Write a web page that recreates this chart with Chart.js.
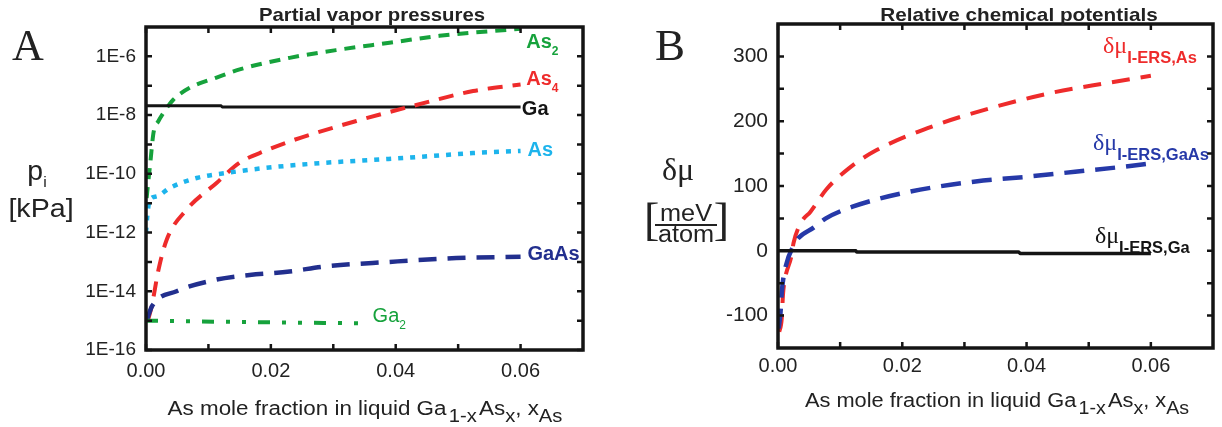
<!DOCTYPE html>
<html>
<head>
<meta charset="utf-8">
<script src="https://cdn.jsdelivr.net/npm/chart.js@4.4.0/dist/chart.umd.min.js"></script>
<style>
  body { margin: 0; background: #fff; }
  #wrap { position: relative; width: 1222px; height: 427px; }
  canvas { position: absolute; top: 0; }
  #chart-a { left: 0; }
  #chart-b { left: 611px; }
</style>
</head>
<body>
<div id="wrap">
  <canvas id="chart-a" width="611" height="427"></canvas>
  <canvas id="chart-b" width="611" height="427"></canvas>
</div>
<script>
// ---- panel A: partial vapor pressures [kPa] vs As mole fraction ----
const as2X = [0.0001, 0.0004, 0.0007, 0.0012, 0.002, 0.0028, 0.0044, 0.007, 0.0113, 0.015, 0.023, 0.031, 0.039, 0.047, 0.06];
const as2P = [1.5e-11, 6.3e-11, 2.5e-10, 2.5e-9, 6.3e-9, 1.2e-8, 3.4e-8, 8.5e-8, 1.9e-7, 3.6e-7, 8.9e-7, 1.7e-6, 2.9e-6, 5.0e-6, 8.7e-6];

const as4X = [0.0003, 0.0009, 0.002, 0.0033, 0.0065, 0.0113, 0.015, 0.0193, 0.0236, 0.0337, 0.0433, 0.0524, 0.06];
const as4P = [1.0e-15, 3.0e-15, 5.4e-14, 5.6e-13, 6.0e-12, 4.9e-11, 2.4e-10, 6.3e-10, 1.4e-9, 6.3e-9, 2.2e-8, 6.6e-8, 1.1e-7];

const asX = [0.0, 0.0002, 0.0006, 0.0017, 0.0038, 0.0081, 0.0129, 0.0193, 0.0278, 0.0364, 0.0417, 0.0524, 0.06];
const asP = [1.0e-12, 3.5e-12, 1.3e-11, 1.7e-11, 3.3e-11, 7.2e-11, 1.07e-10, 1.6e-10, 2.3e-10, 3.0e-10, 3.5e-10, 5.1e-10, 6.0e-10];

const gaX = [0.0, 0.012, 0.0122, 0.06];
const gaP = [2.1e-8, 2.1e-8, 1.9e-8, 1.9e-8];

const gaasX = [0.0001, 0.001, 0.0049, 0.0113, 0.0166, 0.023, 0.0284, 0.039, 0.0497, 0.06];
const gaasP = [1.0e-15, 3.2e-15, 1.0e-14, 2.5e-14, 3.6e-14, 4.7e-14, 6.9e-14, 1.0e-13, 1.35e-13, 1.5e-13];

const ga2X = [0.0, 0.015, 0.035];
const ga2P = [1.0e-15, 9.0e-16, 8.1e-16];

// ---- panel B: relative chemical potentials [meV/atom] ----
const muAsX = [0.0002, 0.0006, 0.0008, 0.001, 0.0022, 0.0025, 0.0038, 0.0052, 0.0078, 0.0115, 0.0158, 0.0254, 0.0345, 0.0441, 0.0505, 0.06];
const muAs  = [-125, -105, -68, -50, -6, 12, 45, 60, 95, 128, 155, 194, 221, 244, 255, 270];

const muGaAsX = [0.0001, 0.0004, 0.0006, 0.0009, 0.0025, 0.0059, 0.0077, 0.012, 0.0211, 0.0318, 0.0398, 0.0478, 0.0558, 0.06];
const muGaAs  = [-120, -96, -65, -40, 8, 37, 50, 68, 91, 107, 114, 122, 130, 135];

const muGaX = [0.0, 0.0125, 0.0127, 0.0387, 0.039, 0.06];
const muGa  = [0, 0, -2, -2, -4, -4];

// ---- axis ticks ----
const xTicks = [0, 0.02, 0.04, 0.06];
const xMinorTicks = [0.01, 0.03, 0.05];
const pTicks = [1e-16, 1e-14, 1e-12, 1e-10, 1e-8, 1e-6];
const pMinorTicks = [1e-15, 1e-13, 1e-11, 1e-9, 1e-7];
const muTicks = [-100, 0, 100, 200, 300];
const muMinorTicks = [-50, 50, 150, 250];

const SANS = '"Liberation Sans", Arial, sans-serif';
const SERIF = '"Liberation Serif", "Times New Roman", serif';
const GREEN = '#16a23c';
const RED = '#ee2b2b';
const CYAN = '#1db4ec';
const NAVY = '#222f8e';
const BLUE = '#2639a8';
const BLACK = '#141414';
const TEXT = '#222';

function pts(xs, ys) {
  return xs.map((x, i) => ({ x: x, y: ys[i] }));
}

function series(label, xs, ys, color, width, dash) {
  return {
    label: label,
    data: pts(xs, ys),
    borderColor: color,
    borderWidth: width,
    borderDash: dash,
    pointRadius: 0,
    fill: false,
    cubicInterpolationMode: 'monotone'
  };
}

// text made of several runs (for sub- and superscripts)
function drawRich(ctx, item, x, y) {
  ctx.save();
  ctx.translate(x, y);
  ctx.scale(item.sx || 1, 1);
  ctx.textBaseline = 'alphabetic';
  ctx.textAlign = 'left';
  let w = 0;
  item.parts.forEach(p => {
    ctx.font = p.font;
    w += ctx.measureText(p.t).width + (p.gap || 0);
  });
  let cx = item.align === 'center' ? -w / 2 : item.align === 'right' ? -w : 0;
  item.parts.forEach(p => {
    ctx.font = p.font;
    ctx.fillStyle = p.color || item.color || TEXT;
    ctx.fillText(p.t, cx, p.dy || 0);
    cx += ctx.measureText(p.t).width + (p.gap || 0);
  });
  ctx.restore();
}

// boxed frame with inward ticks on all four sides, plus annotations
const framePlugin = {
  id: 'frame',
  afterDatasetsDraw(chart, args, opts) {
    const { ctx, chartArea: a, scales } = chart;
    ctx.save();
    ctx.strokeStyle = BLACK;
    ctx.lineWidth = 2.5;
    ctx.beginPath();
    opts.xTicks.forEach(v => {
      const px = scales.x.getPixelForValue(v);
      ctx.moveTo(px, a.bottom); ctx.lineTo(px, a.bottom - 6);
      ctx.moveTo(px, a.top); ctx.lineTo(px, a.top + 6);
    });
    opts.yTicks.forEach(v => {
      const py = scales.y.getPixelForValue(v);
      ctx.moveTo(a.left, py); ctx.lineTo(a.left + 6, py);
      ctx.moveTo(a.right, py); ctx.lineTo(a.right - 6, py);
    });
    ctx.stroke();
    ctx.lineWidth = 3.5;
    ctx.strokeRect(a.left, a.top, a.right - a.left, a.bottom - a.top);
    ctx.restore();

    (opts.texts || []).forEach(t => {
      const x = t.dataX !== undefined ? scales.x.getPixelForValue(t.dataX) : t.px;
      const y = t.dataY !== undefined ? scales.y.getPixelForValue(t.dataY) : t.py;
      drawRich(ctx, t, x, y);
    });
    (opts.rules || []).forEach(r => {
      ctx.save();
      ctx.strokeStyle = TEXT;
      ctx.lineWidth = r.w;
      ctx.beginPath();
      ctx.moveTo(r.x1, r.y); ctx.lineTo(r.x2, r.y);
      ctx.stroke();
      ctx.restore();
    });
  }
};

function fixedAxis(size, vertical) {
  return scale => {
    if (vertical) scale.width = size; else scale.height = size;
    scale.paddingLeft = 0; scale.paddingRight = 0;
    scale.paddingTop = 0; scale.paddingBottom = 0;
  };
}

function xTitle(px, py, sx) {
  return { px: px, py: py, align: 'center', sx: sx, parts: [
    { t: 'As mole fraction in liquid Ga', font: '20px ' + SANS, gap: 2 },
    { t: '1-x', font: '18px ' + SANS, dy: 7, gap: 2 },
    { t: 'As', font: '20px ' + SANS },
    { t: 'x', font: '18px ' + SANS, dy: 7 },
    { t: ', x', font: '20px ' + SANS },
    { t: 'As', font: '18px ' + SANS, dy: 7 }
  ] };
}

const B20 = 'bold 20px ' + SANS;
const B12 = 'bold 12px ' + SANS;

// ---------- panel A ----------
new Chart(document.getElementById('chart-a'), {
  type: 'line',
  data: {
    datasets: [
      series('Ga2', ga2X, ga2P, GREEN, 4, [12, 12, 4, 12, 4, 12]),
      series('GaAs', gaasX, gaasP, NAVY, 4.5, [18, 11]),
      series('As', asX, asP, CYAN, 4.5, [5, 7]),
      series('As4', as4X, as4P, RED, 4, [15, 10]),
      series('Ga', gaX, gaP, BLACK, 3, []),
      series('As2', as2X, as2P, GREEN, 4, [11, 8])
    ]
  },
  options: {
    responsive: false,
    animation: false,
    layout: { padding: { top: 27, right: 28, bottom: 0, left: 0 } },
    plugins: {
      legend: { display: false },
      tooltip: { enabled: false },
      frame: {
        xTicks: xTicks.concat(xMinorTicks),
        yTicks: pTicks.concat(pMinorTicks),
        texts: [
          { px: 12, py: 60, parts: [{ t: 'A', font: '44px ' + SERIF }] },
          { px: 372, py: 21, align: 'center', sx: 1.07, parts: [{ t: 'Partial vapor pressures', font: 'bold 19px ' + SANS }] },
          { px: 37, py: 180, align: 'center', sx: 1.05, parts: [{ t: 'p', font: '27px ' + SANS }, { t: 'i', font: '15px ' + SANS, dy: 7 }] },
          { px: 41, py: 217, align: 'center', sx: 1.1, parts: [{ t: '[kPa]', font: '26px ' + SANS }] },
          xTitle(365, 415, 1.12),
          { dataX: 0.0609, dataY: 2.0e-6, parts: [{ t: 'As', font: B20, color: GREEN }, { t: '2', font: B12, color: GREEN, dy: 7 }] },
          { dataX: 0.0609, dataY: 1.1e-7, parts: [{ t: 'As', font: B20, color: RED }, { t: '4', font: B12, color: RED, dy: 7 }] },
          { dataX: 0.0602, dataY: 1.0e-8, parts: [{ t: 'Ga', font: B20, color: BLACK }] },
          { dataX: 0.0611, dataY: 3.9e-10, parts: [{ t: 'As', font: B20, color: CYAN }] },
          { dataX: 0.0611, dataY: 1.2e-13, parts: [{ t: 'GaAs', font: B20, color: NAVY }] },
          { dataX: 0.0363, dataY: 9.3e-16, parts: [{ t: 'Ga', font: '20px ' + SANS, color: GREEN }, { t: '2', font: '12px ' + SANS, color: GREEN, dy: 7 }] }
        ]
      }
    },
    scales: {
      x: {
        type: 'linear', min: 0, max: 0.07,
        grid: { display: false, drawTicks: false },
        border: { display: false },
        afterBuildTicks: s => { s.ticks = xTicks.map(v => ({ value: v })); },
        afterFit: fixedAxis(77, false),
        ticks: { padding: 9, color: TEXT, font: { family: SANS, size: 20 }, maxRotation: 0, autoSkip: false,
                 callback: v => v.toFixed(2) }
      },
      y: {
        type: 'logarithmic', min: 1e-16, max: 1e-5,
        grid: { display: false, drawTicks: false },
        border: { display: false },
        afterBuildTicks: s => { s.ticks = pTicks.map(v => ({ value: v })); },
        afterFit: fixedAxis(146, true),
        ticks: { padding: 10, color: TEXT, font: { family: SANS, size: 19 }, autoSkip: false,
                 callback: v => '1E' + Math.round(Math.log10(v)) }
      }
    }
  },
  plugins: [framePlugin]
});

// ---------- panel B ----------
const MU = '24px ' + SERIF;
const SUB = 'bold 16.5px ' + SANS;

new Chart(document.getElementById('chart-b'), {
  type: 'line',
  data: {
    datasets: [
      series('δμ I-ERS,Ga', muGaX, muGa, BLACK, 3.5, []),
      series('δμ I-ERS,GaAs', muGaAsX, muGaAs, BLUE, 4.5, [20, 11]),
      series('δμ I-ERS,As', muAsX, muAs, RED, 4, [18, 11])
    ]
  },
  options: {
    responsive: false,
    animation: false,
    layout: { padding: { top: 24, right: 9, bottom: 0, left: 0 } },
    plugins: {
      legend: { display: false },
      tooltip: { enabled: false },
      frame: {
        xTicks: xTicks.concat(xMinorTicks),
        yTicks: muTicks.concat(muMinorTicks),
        texts: [
          { px: 44, py: 60, parts: [{ t: 'B', font: '45px ' + SERIF }] },
          { px: 408, py: 21, align: 'center', sx: 1.09, parts: [{ t: 'Relative chemical potentials', font: 'bold 19px ' + SANS }] },
          { px: 67, py: 180, align: 'center', parts: [{ t: 'δμ', font: '32px ' + SERIF }] },
          { px: 33, py: 235, parts: [{ t: '[', font: '46px ' + SERIF }] },
          { px: 118, py: 235, align: 'right', parts: [{ t: ']', font: '46px ' + SERIF }] },
          { px: 75, py: 221, align: 'center', sx: 1.1, parts: [{ t: 'meV', font: '23px ' + SANS }] },
          { px: 75, py: 242, align: 'center', sx: 1.1, parts: [{ t: 'atom', font: '23px ' + SANS }] },
          xTitle(386, 407, 1.09),
          { dataX: 0.0523, dataY: 305, parts: [{ t: 'δμ', font: MU, color: RED }, { t: 'I-ERS,As', font: SUB, color: RED, dy: 10 }] },
          { dataX: 0.0507, dataY: 155, parts: [{ t: 'δμ', font: MU, color: BLUE }, { t: 'I-ERS,GaAs', font: SUB, color: BLUE, dy: 10 }] },
          { dataX: 0.0510, dataY: 12, parts: [{ t: 'δμ', font: MU, color: BLACK }, { t: 'I-ERS,Ga', font: SUB, color: BLACK, dy: 10 }] }
        ],
        rules: [{ x1: 44, x2: 106, y: 225, w: 2 }]
      }
    },
    scales: {
      x: {
        type: 'linear', min: 0, max: 0.07,
        grid: { display: false, drawTicks: false },
        border: { display: false },
        afterBuildTicks: s => { s.ticks = xTicks.map(v => ({ value: v })); },
        afterFit: fixedAxis(79, false),
        ticks: { padding: 6, color: TEXT, font: { family: SANS, size: 20 }, maxRotation: 0, autoSkip: false,
                 callback: v => v.toFixed(2) }
      },
      y: {
        type: 'linear', min: -150, max: 350,
        grid: { display: false, drawTicks: false },
        border: { display: false },
        afterBuildTicks: s => { s.ticks = muTicks.map(v => ({ value: v })); },
        afterFit: fixedAxis(167, true),
        ticks: { padding: 10, color: TEXT, font: { family: SANS, size: 21 }, autoSkip: false,
                 callback: v => String(v) }
      }
    }
  },
  plugins: [framePlugin]
});
</script>
</body>
</html>
